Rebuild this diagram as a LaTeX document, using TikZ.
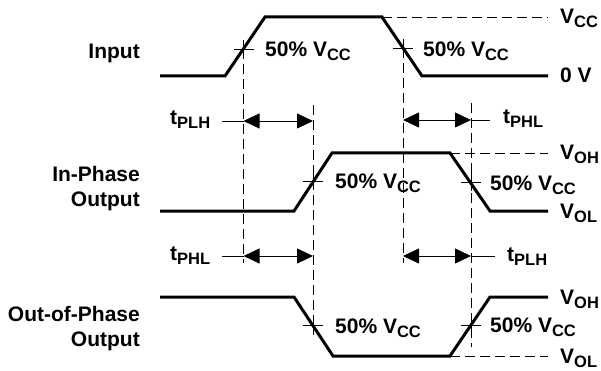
\documentclass[tikz,border=0pt]{standalone}
\usepackage{fontspec}
\setmainfont{Liberation Sans}
\usetikzlibrary{arrows.meta}
\newcommand{\vsub}[2]{#1\raisebox{-4pt}{\fontsize{16.5}{16.5}\selectfont #2}}

\begin{document}
\begin{tikzpicture}[x=1pt,y=-1pt,
	wave/.style={line width=3pt,line join=miter},
	guide/.style={line width=0.8pt,dash pattern=on 10pt off 5pt},
	tick/.style={line width=0.8pt},
	delay/.style={line width=0.8pt,{Triangle[length=16pt,width=15pt]}-{Triangle[length=16pt,width=15pt]}},
	lbl/.style={inner sep=0pt,anchor=base west,font=\fontsize{21}{25}\selectfont\bfseries},
	side/.style={lbl,anchor=base east}]
	\useasboundingbox (0,0) rectangle (601,371);
	% crossing points
	\coordinate (inup) at (243.5,49);
	\coordinate (indn) at (403,48);
	\coordinate (ipup) at (313,181.5);
	\coordinate (ipdn) at (471,182);
	\coordinate (opdn) at (313,325.5);
	\coordinate (opup) at (471,325);
	% waveforms
	\draw[wave] (160,76) -- (225,76) -- (265,17) -- (382,17) -- (422,76) -- (548,76);
	\draw[wave] (160,211) -- (294,211) -- (332,153) -- (450,153) -- (490,211) -- (548,211);
	\draw[wave] (160,297) -- (294,297) -- (333,356) -- (450,356) -- (490,297) -- (548,297);
	\draw[guide] (382,17) -- (548,17);
	\draw[guide] (450,153) -- (548,153);
	\draw[guide] (450,356) -- (548,356);
	% guides and ticks
	\draw[guide] (inup) -- (243.5,263);
	\draw[guide] (indn) -- (403,263);
	\draw[guide] (313,105) -- (313,335);
	\draw[guide] (471,103) -- (471,347);
	\foreach \p in {inup,indn,ipup,ipdn,opdn,opup}
		\draw[tick] ([xshift=-10pt]\p) -- ([xshift=10pt]\p) ([yshift=-9pt]\p) -- ([yshift=9pt]\p);
	% delays
	\coordinate (d1a) at (243.5,121);
	\coordinate (d1b) at (313,121);
	\coordinate (d2a) at (403,120);
	\coordinate (d2b) at (471,120);
	\coordinate (d3a) at (243.5,256);
	\coordinate (d3b) at (313,256);
	\coordinate (d4a) at (403,256);
	\coordinate (d4b) at (471,256);
	\draw[delay] (d1a) -- (d1b);
	\draw[delay] (d2a) -- (d2b);
	\draw[delay] (d3a) -- (d3b);
	\draw[delay] (d4a) -- (d4b);
	\node[lbl] (tplhl) at (170,125) {\vsub{t}{PLH}};
	\node[lbl] (tphlr) at (503,124) {\vsub{t}{PHL}};
	\node[lbl] (tphll) at (170,260) {\vsub{t}{PHL}};
	\node[lbl] (tplhr) at (507,261) {\vsub{t}{PLH}};
	\draw[tick] (222,121) -- (d1a);
	\draw[tick] (d2b) -- (490,120);
	\draw[tick] (222,256) -- (d3a);
	\draw[tick] (d4b) -- (495,256);
	% labels
	\node[side] (inlbl) at (140,59) {Input};
	\node[side] (iplbl) at (140,182) {In-Phase};
	\node[side] (iplblb) at (140,207) {Output};
	\node[side] (oplbl) at (140,321) {Out-of-Phase};
	\node[side] (oplblb) at (140,346) {Output};
	\node[lbl] (pc1) at (265,57) {50\% \vsub{V}{CC}};
	\node[lbl] (pc2) at (423,57) {50\% \vsub{V}{CC}};
	\node[lbl] (pc3) at (335,189) {50\% \vsub{V}{CC}};
	\node[lbl] (pc4) at (490,190) {50\% \vsub{V}{CC}};
	\node[lbl] (pc5) at (335,333) {50\% \vsub{V}{CC}};
	\node[lbl] (pc6) at (490,332) {50\% \vsub{V}{CC}};
	\node[lbl] (vcc) at (560,24) {\vsub{V}{CC}};
	\node[lbl] (vzero) at (560,83) {0 V};
	\node[lbl] (voh1) at (560,160) {\vsub{V}{OH}};
	\node[lbl] (vol1) at (560,218) {\vsub{V}{OL}};
	\node[lbl] (voh2) at (560,304) {\vsub{V}{OH}};
	\node[lbl] (vol2) at (560,363) {\vsub{V}{OL}};
\end{tikzpicture}
\end{document}
